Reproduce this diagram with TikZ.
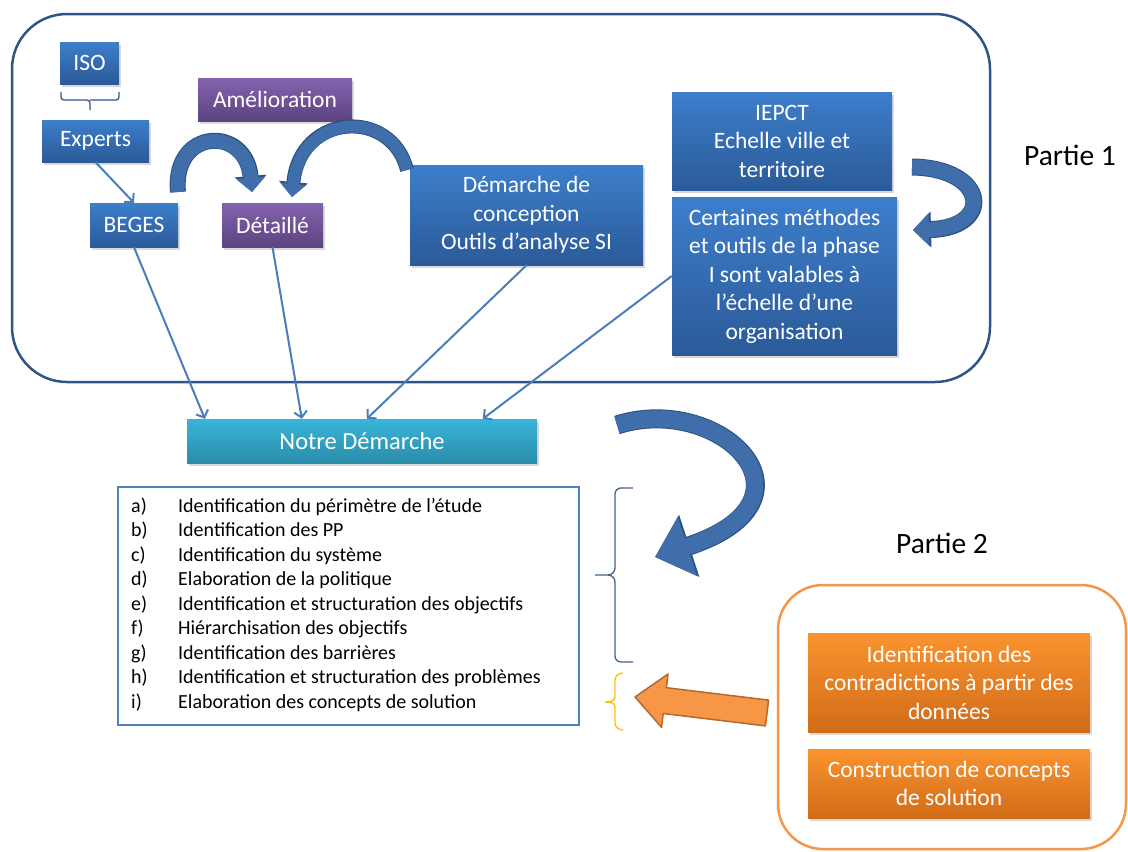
\documentclass[tikz,border=0pt]{standalone}
\usepackage{fontspec}
\setmainfont{Carlito}
\usetikzlibrary{arrows.meta,shadows}
\definecolor{bluetop}{HTML}{3D7ECB}
\definecolor{bluebot}{HTML}{2B5A98}
\definecolor{purtop}{HTML}{8462AE}
\definecolor{purbot}{HTML}{5C4480}
\definecolor{tealtop}{HTML}{38B6DA}
\definecolor{tealbot}{HTML}{2A8CA9}
\definecolor{ortop}{HTML}{FA932F}
\definecolor{orbot}{HTML}{D16C18}
\definecolor{frameblue}{HTML}{2F5486}
\definecolor{listblue}{HTML}{4F81BD}
\definecolor{connc}{HTML}{4A7EBB}
\definecolor{arrowblue}{HTML}{3F6EAA}
\definecolor{arrowdark}{HTML}{2D5182}
\definecolor{orframe}{HTML}{F79646}
\definecolor{orarrow}{HTML}{F79646}
\definecolor{orarrowdark}{HTML}{B46A2E}
\definecolor{bracec}{HTML}{44618C}
\definecolor{yellowc}{HTML}{FFC000}
\begin{document}
\begin{tikzpicture}[x=1pt,y=-1pt,
  box/.style={rectangle, inner sep=2pt, align=center, text=white,
    font=\fontsize{23.5}{28.5}\selectfont,
    drop shadow={shadow xshift=1.5pt,shadow yshift=-2.5pt,opacity=0.3}},
  bluebox/.style={box, top color=bluetop, bottom color=bluebot},
  purbox/.style={box, top color=purtop, bottom color=purbot},
  tealbox/.style={box, top color=tealtop, bottom color=tealbot},
  orbox/.style={box, top color=ortop, bottom color=orbot},
  frame/.style={draw=#1, line width=2.5pt, rectangle, inner sep=0pt},
  conn/.style={draw=connc, line width=2pt, -{Straight Barb[length=6pt,width=13pt]}},
  partie/.style={font=\fontsize{29.5}{33}\selectfont, text=black},
  bracket/.style={draw=bracec, line width=1.3pt},
]
\useasboundingbox (0,0) rectangle (1128,852);

% containers
\node[frame=frameblue, rounded corners=55pt, minimum width=978pt, minimum height=368pt] (part1) at (501,198) {};
\node[frame=orframe, rounded corners=45pt, minimum width=348pt, minimum height=264pt] (part2) at (952,717) {};
\node[frame=listblue, minimum width=461pt, minimum height=238pt] (listbox) at (348.5,606) {};

% boxes
\node[bluebox, minimum width=59pt, minimum height=42pt] (iso) at (89.5,63) {ISO};
\node[bluebox, minimum width=107pt, minimum height=42pt] (experts) at (95.5,141) {Experts};
\node[purbox, minimum width=154pt, minimum height=43pt] (amel) at (275,99.5) {Amélioration};
\node[bluebox, minimum width=88pt, minimum height=44pt] (beges) at (134,225) {BEGES};
\node[purbox, minimum width=101pt, minimum height=44pt] (detaille) at (272.5,225) {Détaillé};
\node[bluebox, minimum width=233pt, minimum height=100pt] (demarche) at (526.5,215) {Démarche de\\conception\\Outils d’analyse SI};
\node[bluebox, minimum width=220pt, minimum height=98pt] (iepct) at (782,141) {IEPCT\\Echelle ville et\\territoire};
\node[bluebox, minimum width=225pt, minimum height=158pt] (certaines) at (784.5,276) {Certaines méthodes\\et outils de la phase\\I sont valables à\\l’échelle d’une\\organisation};
\node[tealbox, minimum width=350pt, minimum height=44pt, font=\fontsize{24.5}{28.5}\selectfont] (notre) at (362,441) {Notre Démarche};
\node[orbox, minimum width=282pt, minimum height=99pt] (or1) at (949,682.5) {Identification des\\contradictions à partir des\\données};
\node[orbox, minimum width=282pt, minimum height=69pt] (or2) at (949,783.5) {Construction de concepts\\de solution};

\node[partie] (p1) at (1070,155) {Partie 1};
\node[partie] (p2) at (942,543) {Partie 2};

% list
\node[anchor=north west, inner sep=0pt, align=left, font=\fontsize{20}{24.5}\selectfont] (listtext) at (131,495) {%
\begin{tabular}{@{}p{47pt}@{}l@{}}
a) & Identification du périmètre de l’étude\\
b) & Identification des PP\\
c) & Identification du système\\
d) & Elaboration de la politique\\
e) & Identification et structuration des objectifs\\
f) & Hiérarchisation des objectifs\\
g) & Identification des barrières\\
h) & Identification et structuration des problèmes\\
i) & Elaboration des concepts de solution
\end{tabular}};

% thin connectors
\draw[conn] (experts.south) -- (beges.north);
\draw[conn] (beges.south) -- ([xshift=18pt]notre.north west);
\draw[conn] (detaille.south) -- ([xshift=115pt]notre.north west);
\draw[conn] (demarche.south) -- ([xshift=180pt]notre.north west);
\draw[conn] (certaines.west) -- ([xshift=296pt]notre.north west);

% ISO brace
\draw[bracket, draw=frameblue, rounded corners=3pt] (61,92) -- (61,100) -- (90,100) -- (90,110);
\draw[bracket, draw=frameblue, rounded corners=3pt] (119,92) -- (119,100) -- (90,100);

% big bracket
\draw[bracket] (633,488) -- (621,488) to[out=180,in=90] (615,494) -- (615,568) to[out=-90,in=0] (608,575) -- (595,575);
\draw[bracket] (633,662) -- (621,662) to[out=180,in=-90] (615,656) -- (615,582) to[out=90,in=0] (608,575);
% yellow brace
\draw[bracket, draw=yellowc] (623,673) to[out=180,in=90] (615,680) -- (615,697) to[out=-90,in=0] (605,702);
\draw[bracket, draw=yellowc] (623,730) to[out=180,in=-90] (615,723) -- (615,707) to[out=90,in=0] (605,702);

% curved block arrows
\draw[line width=14pt, draw=arrowblue, -{Triangle[width=28pt,length=14pt]},
  preaction={draw=arrowdark, line width=16pt, -{Triangle[width=31pt,length=16pt]}}]
  (178,192) .. controls (172,128) and (246,125) .. (252,192);
\draw[line width=12pt, draw=arrowblue, -{Triangle[width=25pt,length=13pt]},
  preaction={draw=arrowdark, line width=14pt, -{Triangle[width=28pt,length=15pt]}}]
  (407,170) .. controls (392,108) and (300,112) .. (292,197);
\draw[line width=15pt, draw=arrowblue, -{Triangle[width=32pt,length=16pt]},
  preaction={draw=arrowdark, line width=17pt, -{Triangle[width=35pt,length=18pt]}}]
  (912,167) .. controls (988,168) and (994,228) .. (913,230);
\draw[line width=17pt, draw=arrowblue, -{Triangle[width=60pt,length=34pt]},
  preaction={draw=arrowdark, line width=19pt, -{Triangle[width=63pt,length=36pt]}}]
  (617,425) .. controls (720,392) and (830,500) .. (655,557);

% orange block arrow
\filldraw[fill=orarrow, draw=orarrowdark, line width=1.5pt, line join=round]
  (635,697) -- (668,674) -- (666.4,687.7) -- (768.6,700.1) -- (765.4,725.9) -- (663.2,713.5) -- (661.6,727.4) -- cycle;
\end{tikzpicture}
\end{document}
